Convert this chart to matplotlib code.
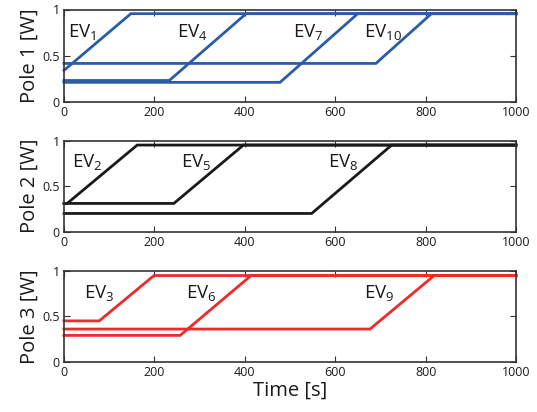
import matplotlib
matplotlib.use("Agg")
import matplotlib.pyplot as plt

plt.rcParams['font.family'] = ['Open Sans', 'DejaVu Sans']

# Pole 1 (blue): EV1, EV4, EV7, EV10
p1_x = [[0, 148, 1000], [0, 233, 403, 1000], [0, 478, 650, 1000], [0, 690, 813, 1000]]
p1_y = [[0.34, 0.955, 0.955], [0.23, 0.23, 0.955, 0.955], [0.21, 0.21, 0.955, 0.955], [0.415, 0.415, 0.955, 0.955]]
p1_labels = ["1", "4", "7", "10"]
p1_label_x = [8, 251, 506, 663]

# Pole 2 (black): EV2, EV5, EV8
p2_x = [[0, 7, 162, 1000], [0, 243, 397, 1000], [0, 548, 725, 1000]]
p2_y = [[0.31, 0.31, 0.95, 0.95], [0.31, 0.31, 0.95, 0.95], [0.2, 0.2, 0.95, 0.95]]
p2_labels = ["2", "5", "8"]
p2_label_x = [17, 258, 584]

# Pole 3 (red): EV3, EV6, EV9
p3_x = [[0, 78, 199, 1000], [0, 257, 414, 1000], [0, 677, 819, 1000]]
p3_y = [[0.45, 0.45, 0.95, 0.95], [0.29, 0.29, 0.95, 0.95], [0.36, 0.36, 0.95, 0.95]]
p3_labels = ["3", "6", "9"]
p3_label_x = [45, 270, 663]

ylabels = ["Pole 1 [W]", "Pole 2 [W]", "Pole 3 [W]"]
xticks = [0, 200, 400, 600, 800, 1000]
yticks = [0, 0.5, 1]
ytick_labels = ["0", "0.5", "1"]

colors = ["#2a5caa", "#1a1a1a", "#ee2a2a"]
label_y = [0.75, 0.76, 0.75]

fig = plt.figure(figsize=(5.37, 4.12), dpi=100)
L, R = 64 / 537, 516 / 537
boxes = [(9.5, 101.7), (140.5, 231.7), (271, 361.7)]

panels = [(p1_x, p1_y, p1_labels, p1_label_x),
          (p2_x, p2_y, p2_labels, p2_label_x),
          (p3_x, p3_y, p3_labels, p3_label_x)]

for i, ((xs, ys, labs, lx), (t, b)) in enumerate(zip(panels, boxes)):
    ax = fig.add_axes([L, 1 - b / 412, R - L, (b - t) / 412])
    for x, y in zip(xs, ys):
        ax.plot(x, y, color=colors[i], lw=2, solid_joinstyle='miter', clip_on=False)
    for lab, xx in zip(labs, lx):
        ax.text(xx, label_y[i], r"EV$_{\mathregular{" + lab + "}}$", fontsize=13.5,
                ha='left', va='center', color='#1a1a1a')
    ax.set_xlim(0, 1000)
    ax.set_ylim(0, 1)
    ax.set_xticks(xticks)
    ax.set_yticks(yticks)
    ax.set_yticklabels(ytick_labels)
    ax.tick_params(direction='in', top=True, right=True, labelsize=9,
                   length=4, width=0.8, colors='#333333', labelcolor='#1a1a1a', pad=3)
    for s in ax.spines.values():
        s.set_color('#333333')
        s.set_linewidth(1.2)
    ax.set_ylabel(ylabels[i], fontsize=14.5, labelpad=2, color='#1a1a1a')
    if i == 2:
        ax.set_xlabel("Time [s]", fontsize=14.5, labelpad=1, color='#1a1a1a')

fig.savefig("out.png", dpi=100)
